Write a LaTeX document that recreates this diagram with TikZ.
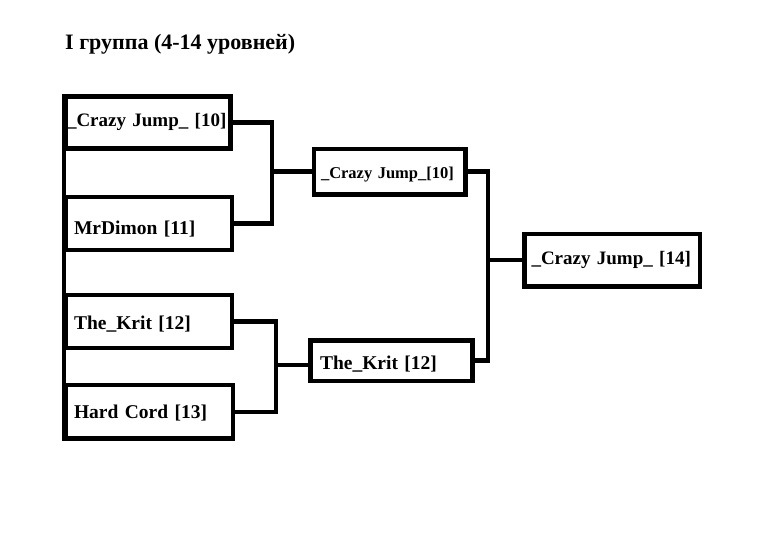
\documentclass[tikz,border=0pt]{standalone}
\usepackage{fontspec}
\setmainfont{Liberation Serif}
\tikzset{
player/.style  = {shape=rectangle, draw, line width=4.5pt,
                  anchor=center, align=left,
                  inner xsep=8pt, inner ysep=0pt,
                  text width=#1, text depth=0pt,
                  font=\bfseries\fontsize{19.5}{22}\selectfont},
player/.default = 150pt,
semi/.style    = {player=#1, font=\bfseries\fontsize{16.5}{19}\selectfont},
tight/.style   = {font=\bfseries\fontsize{19}{22}\selectfont},
heading/.style = {font=\bfseries\fontsize{22}{26}\selectfont, inner sep=0pt},
link/.style    = {line width=4.5pt}
}

\begin{document}
\begin{tikzpicture}[x=1pt, y=-1pt]
\useasboundingbox (0,0) rectangle (779,534);

\node[heading, anchor=base west] (head) at (65,50) {I группа (4-14 уровней)};

% first round
\node[player=162.5pt, tight, inner xsep=1pt, minimum height=52pt, text height=9pt] (p1) at (148.25,122.5) {\mbox{\_Crazy Jump\_ [10]}};
\node[player, minimum height=53pt, text height=23pt] (p2) at (149,223.5) {MrDimon [11]};
\node[player, minimum height=53pt, text height=17pt] (p3) at (149,321.5) {The\_Krit [12]};
\node[player=151pt, minimum height=53.5pt, text height=12.5pt] (p4) at (149.5,411.75) {Hard Cord [13]};

% second round
\node[semi=137.5pt, inner xsep=7pt, minimum height=45.5pt, text height=14.5pt] (s1) at (389.75,171.75) {\_Crazy Jump\_[10]};
\node[player=143pt, inner xsep=9.5pt, minimum height=40.5pt, text height=18.5pt] (s2) at (391.5,360.75) {The\_Krit [12]};

% final
\node[player=161.5pt, tight, inner xsep=7pt, minimum height=52.5pt, text height=9.5pt] (f) at (612.25,260.25) {\mbox{\_Crazy Jump\_ [14]}};

\coordinate (j1) at (272,171.75);
\coordinate (j2) at (276,365);
\coordinate (j3) at (488,260.25);

\draw[link] (p1.north west) -- (p4.south west);
\draw[link] (p1.east) -| (j1) |- (p2.east);
\draw[link] (j1) -- (s1.west);
\draw[link] (p3.east) -| (j2) |- (p4.east);
\draw[link] (j2) -- (j2 -| s2.west);
\draw[link] (s1.east) -| (j3) |- (s2.east);
\draw[link] (j3) -- (f.west);
\end{tikzpicture}
\end{document}
